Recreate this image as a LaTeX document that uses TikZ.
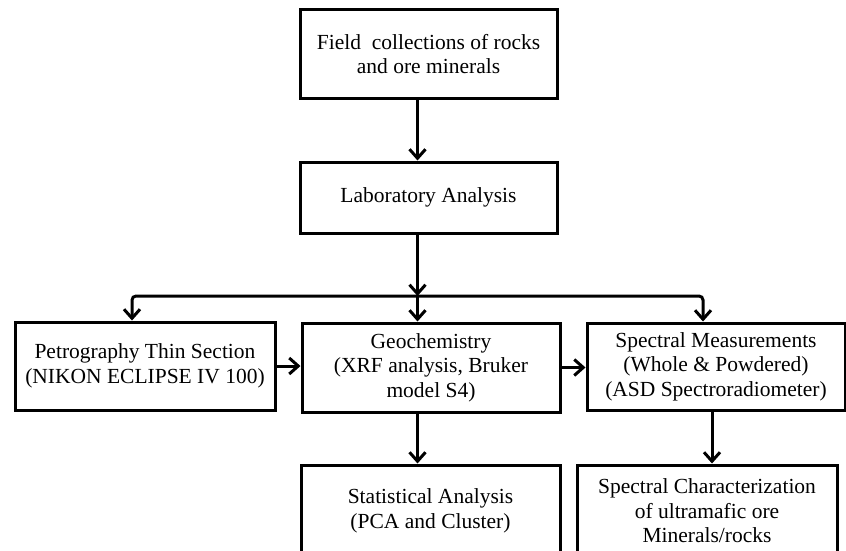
\documentclass[tikz,border=0pt]{standalone}
\usepackage{fontspec}
\setmainfont{Liberation Serif}
\usetikzlibrary{arrows.meta}
\begin{document}
\begin{tikzpicture}[x=1pt,y=-1pt,
  box/.style={draw=black,line width=3pt,inner sep=0pt,align=center,
    font=\fontsize{21.5}{24.5}\selectfont},
  arr/.style={line width=3pt,-{Straight Barb[length=9pt,width=16pt,line width=3pt]}},
  arrtwo/.style={line width=3pt,rounded corners=4pt,
    {Straight Barb[length=9pt,width=16pt,line width=3pt]}-{Straight Barb[length=9pt,width=16pt,line width=3pt]}}]
\useasboundingbox (0,0) rectangle (846,551);
\clip (0,0) rectangle (846,551);
\fill[white] (0,0) rectangle (846,551);

\node[box,minimum width=257pt,minimum height=88pt] (field) at (428.5,54)
  {Field\ \ collections of rocks\\and ore minerals};
\node[box,minimum width=257pt,minimum height=71pt] (lab) at (428.5,197.5)
  {Laboratory Analysis};
\node[box,minimum width=260pt,minimum height=88pt] (petro) at (145,366)
  {Petrography Thin Section\\(NIKON ECLIPSE IV 100)};
\node[box,minimum width=258pt,minimum height=89pt] (geo) at (431,367.5)
  {Geochemistry\\(XRF analysis, Bruker\\model S4)};
\node[box,minimum width=258pt,minimum height=87pt] (spec) at (716,366.5)
  {Spectral Measurements\\(Whole \& Powdered)\\(ASD Spectroradiometer)};
\node[box,minimum width=259pt,minimum height=92pt] (stat) at (430.5,511)
  {Statistical Analysis\\(PCA and Cluster)};
\node[box,minimum width=260pt,minimum height=92pt] (char) at (707,511)
  {Spectral Characterization\\of ultramafic ore\\Minerals/rocks};

\coordinate (c) at (417.5,296);
\coordinate (hl) at (132,296);
\coordinate (hr) at (703,296);
\coordinate (sc) at (712,0);

\draw[arr] (field.south -| c) -- (lab.north -| c);
\draw[arr] (lab.south -| c) -- (c);
\draw[arr] (c) -- (geo.north -| c);
\draw[arrtwo] (petro.north -| hl) -- (hl) -- (hr) -- (spec.north -| hr);
\draw[arr] (petro.east) -- (geo.west |- petro.east);
\draw[arr] (geo.east) -- (spec.west |- geo.east);
\draw[arr] (geo.south -| c) -- (stat.north -| c);
\draw[arr] (spec.south -| sc) -- (char.north -| sc);
\end{tikzpicture}
\end{document}
